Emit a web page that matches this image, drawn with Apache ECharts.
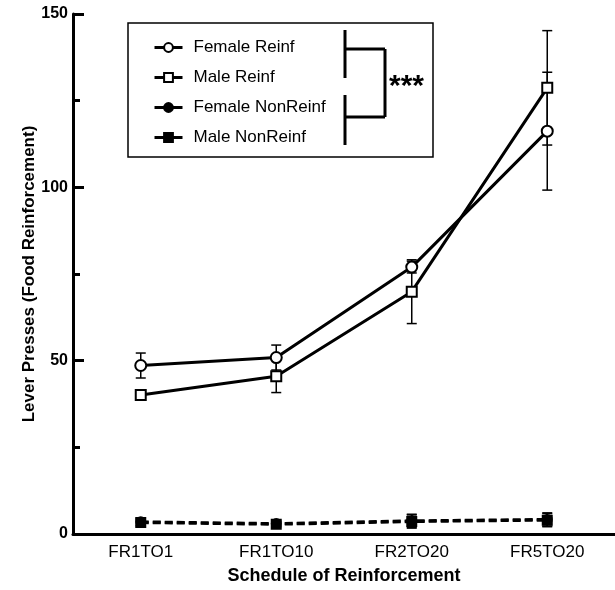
<!DOCTYPE html>
<html>
<head>
<meta charset="utf-8">
<script src="https://cdn.jsdelivr.net/npm/echarts@6/dist/echarts.min.js"></script>
<style>html,body{margin:0;padding:0;background:#fff;}#c{width:615px;height:590px;}</style>
</head>
<body>
<div id="c"></div>
<script>
const categories = ['FR1TO1', 'FR1TO10', 'FR2TO20', 'FR5TO20'];
const femaleReinf = [48.6, 50.9, 77.0, 116.2];
const femaleReinfErr = [3.6, 3.6, 1.7, 17.0];
const maleReinf = [40.1, 45.5, 69.9, 128.7];
const maleReinfErr = [1.5, 4.7, 9.2, 16.5];
const femaleNonReinf = [3.5, 3.0, 3.8, 4.2];
const femaleNonReinfErr = [1.0, 0.8, 1.9, 1.9];
const maleNonReinf = [3.3, 2.8, 3.6, 4.0];
const maleNonReinfErr = [1.0, 0.8, 1.9, 1.9];
const yTicks = [0, 50, 100, 150];

const FONT = 'Liberation Sans, Arial, sans-serif';
const chart = echarts.init(document.getElementById('c'), null, {renderer: 'canvas'});

function errData(mean, err) {
  return mean.map((m, i) => [i, m - err[i], m + err[i]]);
}
function errSeries(mean, err) {
  return {
    type: 'custom',
    z: 1,
    silent: true,
    data: errData(mean, err),
    renderItem: function (params, api) {
      const lo = api.coord([api.value(0), api.value(1)]);
      const hi = api.coord([api.value(0), api.value(2)]);
      const w = 5;
      const st = {stroke: '#000', lineWidth: 1.5};
      return {
        type: 'group',
        children: [
          {type: 'line', shape: {x1: lo[0], y1: lo[1], x2: hi[0], y2: hi[1]}, style: st},
          {type: 'line', shape: {x1: lo[0] - w, y1: lo[1], x2: lo[0] + w, y2: lo[1]}, style: st},
          {type: 'line', shape: {x1: hi[0] - w, y1: hi[1], x2: hi[0] + w, y2: hi[1]}, style: st}
        ]
      };
    }
  };
}
function lineSeries(name, data, symbol, size, filled, dashed) {
  return {
    name: name,
    type: 'line',
    z: 3,
    data: data,
    symbol: symbol,
    symbolSize: size,
    showAllSymbol: true,
    itemStyle: {color: filled ? '#000' : '#fff', borderColor: '#000', borderWidth: 2, opacity: 1},
    lineStyle: {color: '#000', width: 3, type: dashed ? [8, 4] : 'solid'},
    emphasis: {disabled: true}
  };
}

const option = {
  animation: false,
  backgroundColor: '#fff',
  grid: {left: 73, top: 14, width: 549, height: 528, containLabel: false},
  legend: {
    orient: 'vertical',
    left: 148,
    top: 34,
    itemWidth: 28,
    itemHeight: 11,
    itemGap: 13,
    data: ['Female Reinf', 'Male Reinf', 'Female NonReinf', 'Male NonReinf'],
    lineStyle: {type: 'solid', width: 3, color: '#000'},
    textStyle: {fontFamily: FONT, fontSize: 17, color: '#000', padding: [0, 0, 0, 6]},
    selectedMode: false
  },
  xAxis: {
    type: 'category',
    data: categories,
    boundaryGap: true,
    axisLine: {lineStyle: {color: '#000', width: 3}},
    axisTick: {show: false},
    axisLabel: {fontFamily: FONT, fontSize: 17, color: '#000', margin: 10},
    name: 'Schedule of Reinforcement',
    nameLocation: 'middle',
    nameGap: 33,
    nameTextStyle: {fontFamily: FONT, fontSize: 18, fontWeight: 'bold', color: '#000'}
  },
  yAxis: {
    type: 'value',
    min: 0,
    max: 150,
    interval: 50,
    axisLine: {show: true, lineStyle: {color: '#000', width: 3}},
    axisTick: {show: true, inside: true, length: 11, lineStyle: {color: '#000', width: 3}},
    minorTick: {show: true, splitNumber: 2, length: 7, lineStyle: {color: '#000', width: 3}},
    splitLine: {show: false},
    axisLabel: {
      fontFamily: FONT, fontSize: 16, fontWeight: 'bold', color: '#000', margin: 5,
      formatter: function (v) { return yTicks.indexOf(v) >= 0 ? String(v) : ''; }
    },
    name: 'Lever Presses (Food Reinforcement)',
    nameLocation: 'middle',
    nameGap: 35,
    nameMoveOverlap: false,
    nameTextStyle: {fontFamily: FONT, fontSize: 17, fontWeight: 'bold', color: '#000'}
  },
  graphic: [
    {type: 'rect', shape: {x: 128, y: 23, width: 305, height: 134}, style: {fill: 'none', stroke: '#000', lineWidth: 1.5}, z: 10},
    {type: 'line', shape: {x1: 345, y1: 30, x2: 345, y2: 78}, style: {stroke: '#000', lineWidth: 3}, z: 10},
    {type: 'line', shape: {x1: 345, y1: 49, x2: 385, y2: 49}, style: {stroke: '#000', lineWidth: 3}, z: 10},
    {type: 'line', shape: {x1: 385, y1: 49, x2: 385, y2: 117}, style: {stroke: '#000', lineWidth: 3}, z: 10},
    {type: 'line', shape: {x1: 345, y1: 117, x2: 385, y2: 117}, style: {stroke: '#000', lineWidth: 3}, z: 10},
    {type: 'line', shape: {x1: 345, y1: 95, x2: 345, y2: 145}, style: {stroke: '#000', lineWidth: 3}, z: 10},
    {type: 'text', x: 389, y: 72, style: {text: '***', font: 'bold 30px Liberation Sans, Arial, sans-serif', fill: '#000'}, z: 10}
  ],
  series: [
    errSeries(femaleReinf, femaleReinfErr),
    errSeries(maleReinf, maleReinfErr),
    errSeries(femaleNonReinf, femaleNonReinfErr),
    errSeries(maleNonReinf, maleNonReinfErr),
    lineSeries('Female Reinf', femaleReinf, 'circle', 11, false, false),
    lineSeries('Male Reinf', maleReinf, 'rect', 10, false, false),
    lineSeries('Female NonReinf', femaleNonReinf, 'circle', 9, true, true),
    lineSeries('Male NonReinf', maleNonReinf, 'rect', 9, true, true)
  ]
};
chart.setOption(option);
</script>
</body>
</html>
